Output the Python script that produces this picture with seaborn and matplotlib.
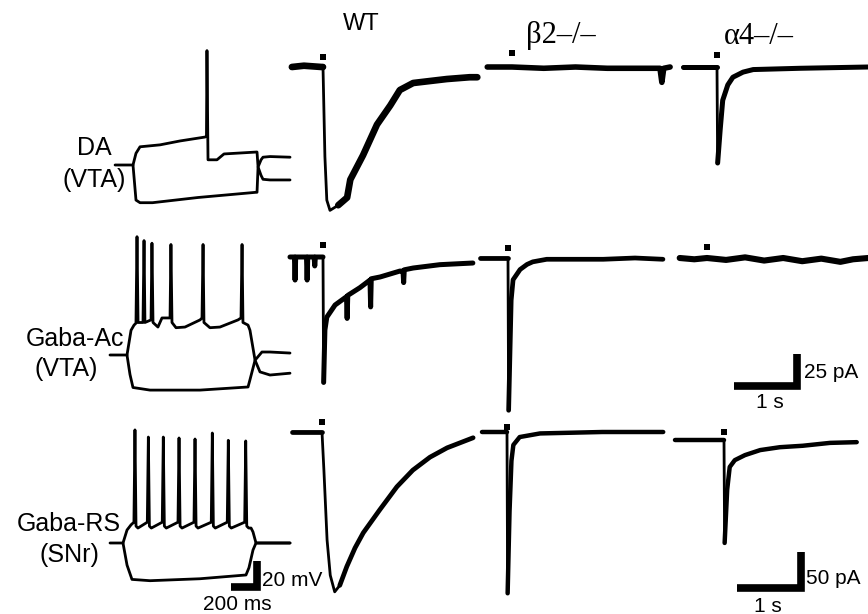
import matplotlib
matplotlib.use("Agg")
import matplotlib.pyplot as plt
import seaborn as sns

W, H = 868, 614

# pixel scales of the original figure
PX_PER_S = 63.5      # current traces, 1 s
PX_PER_MS = 0.13     # voltage traces
PX_PER_MV = 1.3
ROW_PX_PER_PA = [1.28, 1.28, 0.72]

row_names = [("DA", "(VTA)"), ("Gaba-Ac", "(VTA)"), ("Gaba-RS", "(SNr)")]
genotypes = ["WT", "β2–/–", "α4–/–"]

# ---- current-clamp traces: time (ms from step onset), voltage (mV from rest) ----
da_dep_t = [-138, 0, 23, 54, 208, 362, 554, 565, 569, 577, 646, 700, 954, 962, 985, 1000, 1054, 1208]
da_dep_v = [0, 0, 9, 14, 15.5, 18.5, 21.5, 22, 88, 4, 4, 8.5, 10, -1.5, 4, 6, 6.5, 6]
da_hyp_t = [0, 23, 54, 150, 500, 946, 954, 962, 985, 1000, 1054, 1208]
da_hyp_v = [0, -27, -29, -29, -25, -21, -21, -1.5, -8, -11, -11.5, -11.5]

gac_dep_t = [-131, 0, 31, 54, 69, 77, 85, 123, 131, 138, 185, 192, 200, 238, 269, 331, 338, 346,
             377, 446, 562, 577, 585, 592, 638, 715, 854, 877, 885, 892, 931, 946, 985, 1023, 1100, 1254]
gac_dep_v = [0, 0, 19, 23, 24.5, 91, 25, 25, 88, 25, 27, 86, 25, 21.5, 28.5, 28.5, 85, 25,
             21, 21.5, 27, 28.5, 85, 25, 21, 21.5, 27, 28.5, 85, 25, 23, 19, -4, -13, -15.4, -14]
gac_hyp_t = [0, 23, 46, 177, 562, 931, 946, 985, 1038, 1100, 1254]
gac_hyp_v = [0, -15, -25, -27, -27, -24.6, -19, -4, 2.3, 2.3, 1.5]

grs_dep_t = [-100, 0, 31, 62, 84, 92, 100, 115, 187, 195, 203, 218, 302, 310, 318, 333,
             423, 431, 439, 454, 546, 554, 562, 577, 679, 687, 695, 710, 802, 810, 818, 833,
             936, 944, 952, 967, 985, 1000, 1023, 1285]
grs_dep_v = [0, 0, 10, 14, 16, 87, 13, 11.5, 16, 81.5, 13, 11.5, 16, 81.5, 13, 11.5,
             16, 80.8, 13, 11.5, 16, 80, 13, 11.5, 16, 84.6, 13, 11.5, 16, 79, 13, 11.5,
             16, 78.5, 13, 11.5, 11.5, 8.5, 0, 0]
grs_hyp_t = [0, 31, 69, 208, 592, 946, 969, 1000, 1023, 1285]
grs_hyp_v = [0, -17, -28, -29, -27.5, -24.6, -19, -5.4, 0, 0]

# ---- ACh-evoked currents: time (s from puff), current (pA from baseline) ----
da_wt_t = [-0.49, -0.3, -0.02, 0.0, 0.03, 0.06, 0.11, 0.24, 0.38, 0.43, 0.63, 0.85, 1.06, 1.21, 1.42, 1.95, 2.31, 2.43]
da_wt_i = [0, 1, 0, 0, -70, -104, -112, -108, -102, -88, -69, -45, -30, -18, -12.5, -9.4, -8, -8]
da_b2_t = [-0.39, 0.0, 0.5, 1.0, 1.5, 2.0, 2.33, 2.36, 2.39, 2.49]
da_b2_i = [0, 0, -1, 0, -1, -1, -1, -12, -1, 0]
da_a4_t = [-0.54, -0.02, 0.0, 0.01, 0.05, 0.09, 0.17, 0.25, 0.41, 0.57, 1.31, 2.38]
da_a4_i = [0, 0, 0, -75, -49, -26, -14, -8, -4, -2, -1, 0]

gac_wt_t = [-0.52, -0.45, -0.44, -0.43, -0.26, -0.25, -0.24, -0.14, -0.13, -0.12, -0.02, 0.0, 0.01,
            0.03, 0.06, 0.19, 0.37, 0.38, 0.39, 0.58, 0.74, 0.75, 0.76, 0.9, 1.21, 1.26, 1.27, 1.28,
            1.42, 1.84, 2.36]
gac_wt_i = [0, 0, -18, 0, 0, -18, 0, 0, -7, 0, 0, 0, -98,
            -57, -47, -37.5, -31, -48, -30, -24, -18, -39, -17, -15.6, -11, -11, -20, -10,
            -8.6, -6, -4.7]
gac_b2_t = [-0.44, -0.02, 0.0, 0.01, 0.05, 0.08, 0.19, 0.3, 0.39, 0.61, 1.0, 1.5, 2.0, 2.44]
gac_b2_i = [0, 0, 0, -119, -33, -17, -9, -5, -3, -1, -1, -1, 0, -1]
gac_a4_t = [-0.43, -0.2, 0.0, 0.3, 0.6, 0.9, 1.2, 1.5, 1.8, 2.1, 2.3, 2.54]
gac_a4_i = [0, -1, 0, -1.5, 0.5, -2, 0, -2.5, -0.5, -3, -1, 0]

grs_wt_t = [-0.47, -0.02, 0.0, 0.03, 0.08, 0.13, 0.2, 0.28, 0.39, 0.52, 0.65, 0.91, 1.18, 1.43, 1.7, 1.97, 2.38]
grs_wt_i = [0, 0, 0, -53, -150, -199, -222, -213, -187, -161, -140, -108, -76, -53, -35, -22, -8]
grs_b2_t = [-0.39, -0.02, 0.0, 0.01, 0.04, 0.07, 0.1, 0.2, 0.52, 1.5, 2.46]
grs_b2_i = [0, 0, 0, -224, -110, -40, -18, -7, -2, 0, 0]
grs_a4_t = [-0.77, -0.4, -0.02, 0.0, 0.01, 0.05, 0.09, 0.17, 0.33, 0.57, 0.88, 1.24, 1.67, 2.09]
grs_a4_i = [0, 0, 0, 0, -143, -69, -37.5, -28, -21, -14, -10, -8, -4, -3]

# puff marker height above baseline (pA), per row: WT, b2, a4
puff_mark = [[7.8, 11, 9.4], [9.4, 7.8, 8.6], [13.5, 7, 11]]

# scale bars
VBAR_MS, VBAR_MV = 200, 20
IBAR_S = 1
IBAR_PA = [25, 50]

# where each panel's origin sits in the original figure (pixels)
vc_origin = [(133, 165), (127, 355), (123, 543)]
ec_origin = [[(323, 67), (512, 67), (717, 67)],
             [(323, 257), (508, 258), (707, 258)],
             [(322, 432), (507, 432), (724, 440)]]


def overlay(fig, x0, y0, sx, sy):
    ax = fig.add_axes([0, 0, 1, 1])
    ax.set_xlim(-x0 / sx, (W - x0) / sx)
    ax.set_ylim(-(H - y0) / sy, y0 / sy)
    ax.set_axis_off()
    return ax


def trace(ax, x, y, lw):
    sns.lineplot(x=x, y=y, ax=ax, color="black", linewidth=lw, sort=False,
                 estimator=None, legend=False, solid_joinstyle="round")


def noisy_trace(ax, t, i, lw):
    # noisy baseline and recovery drawn as a thick band, the fast drop thin
    if min(i) > -30:
        trace(ax, t, i, lw)
        return
    trace(ax, t, i, 2.0)
    pre = [k for k in range(len(t)) if t[k] <= 0]
    trace(ax, [t[k] for k in pre], [i[k] for k in pre], lw)
    k0 = i.index(min(i))
    if k0 > pre[-1] + 1:
        k0 += 1
    trace(ax, t[k0:], i[k0:], lw)


def bar(ax, x0, y0, dx, dy):
    sns.lineplot(x=[x0, x0 + dx, x0 + dx], y=[y0, y0, y0 + dy], ax=ax, color="black",
                 linewidth=5.5, sort=False, estimator=None, legend=False,
                 solid_joinstyle="miter", solid_capstyle="butt")


def px_text(fig, x, y, s, size, ha="center", family=None):
    fig.text(x / W, 1 - y / H, s, ha=ha, va="center", fontsize=size, color="black",
             family=family or ["Liberation Sans", "DejaVu Sans"])


sns.set_theme(style="white")
plt.rcParams["font.family"] = ["Liberation Sans", "DejaVu Sans"]
plt.rcParams["text.color"] = "black"

fig = plt.figure(figsize=(W / 100, H / 100), dpi=100)

vc_traces = [(da_dep_t, da_dep_v, da_hyp_t, da_hyp_v),
             (gac_dep_t, gac_dep_v, gac_hyp_t, gac_hyp_v),
             (grs_dep_t, grs_dep_v, grs_hyp_t, grs_hyp_v)]
ec_traces = [[(da_wt_t, da_wt_i), (da_b2_t, da_b2_i), (da_a4_t, da_a4_i)],
             [(gac_wt_t, gac_wt_i), (gac_b2_t, gac_b2_i), (gac_a4_t, gac_a4_i)],
             [(grs_wt_t, grs_wt_i), (grs_b2_t, grs_b2_i), (grs_a4_t, grs_a4_i)]]
ec_width = [[4.8, 4.0, 3.6], [3.6, 3.4, 4.4], [3.4, 3.2, 3.2]]

for r in range(3):
    ox, oy = vc_origin[r]
    ax = overlay(fig, ox, oy, PX_PER_MS, PX_PER_MV)
    dt, dv, ht, hv = vc_traces[r]
    trace(ax, dt, dv, 2.0)
    trace(ax, ht, hv, 2.0)
    if r == 2:
        bar(ax, 830, -34, VBAR_MS, VBAR_MV)

    for c in range(3):
        ox, oy = ec_origin[r][c]
        ax = overlay(fig, ox, oy, PX_PER_S, ROW_PX_PER_PA[r])
        t, i = ec_traces[r][c]
        noisy_trace(ax, t, i, ec_width[r][c])
        sns.scatterplot(x=[0], y=[puff_mark[r][c]], ax=ax, marker="s", s=14,
                        color="black", linewidth=0, legend=False)
        if c == 2 and r == 1:
            bar(ax, 0.425, -100, IBAR_S, IBAR_PA[0])
        if c == 2 and r == 2:
            bar(ax, 0.21, -205, IBAR_S, IBAR_PA[1])

# row labels
px_text(fig, 94, 148, row_names[0][0], 18)
px_text(fig, 94, 180, row_names[0][1], 18)
px_text(fig, 75, 339, row_names[1][0], 18)
px_text(fig, 66, 369, row_names[1][1], 18)
px_text(fig, 69, 524, row_names[2][0], 18)
px_text(fig, 69, 555, row_names[2][1], 18)

# column titles
px_text(fig, 361, 24, genotypes[0], 17)
px_text(fig, 561, 35, genotypes[1], 22, family=["Liberation Serif", "DejaVu Serif"])
px_text(fig, 759, 36, genotypes[2], 22, family=["Liberation Serif", "DejaVu Serif"])

# scale bar labels
px_text(fig, 804, 373, f"{IBAR_PA[0]} pA", 15, ha="left")
px_text(fig, 770, 402, f"{IBAR_S} s", 15)
px_text(fig, 806, 578, f"{IBAR_PA[1]} pA", 15, ha="left")
px_text(fig, 768, 606, f"{IBAR_S} s", 15)
px_text(fig, 262, 581, f"{VBAR_MV} mV", 15, ha="left")
px_text(fig, 237, 605, f"{VBAR_MS} ms", 15)

fig.savefig("out.png", dpi=100, facecolor="white")
